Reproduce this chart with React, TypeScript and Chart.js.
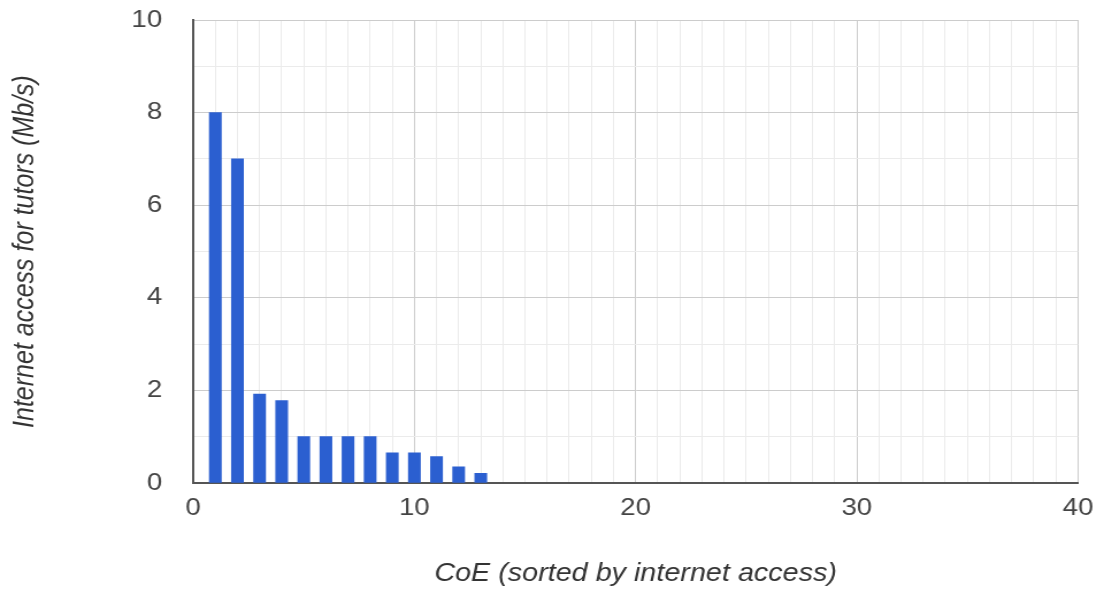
import React, { useEffect, useRef } from "react";
import { Chart, registerables } from "chart.js";

Chart.register(...registerables);

const categories: number[] = [1, 2, 3, 4, 5, 6, 7, 8, 9, 10, 11, 12, 13];
const values: number[] = [8.0, 7.0, 1.92, 1.78, 1.0, 1.0, 1.0, 1.0, 0.65, 0.65, 0.57, 0.35, 0.21];
const xTickLabels: number[] = [0, 10, 20, 30, 40];
const yTickLabels: number[] = [0, 2, 4, 6, 8, 10];
const xTitle = "CoE (sorted by internet access)";
const yTitle = "Internet access for tutors (Mb/s)";

const FONT = "'Liberation Sans', Arial, sans-serif";
const STRETCH = 1.15;
const INNER_W = Math.round(1098 / STRETCH);

const titlePlugin = {
  id: "axisTitles",
  afterDraw(chart: any) {
    const ctx = chart.ctx;
    const area = chart.chartArea;
    ctx.save();
    ctx.fillStyle = "#333333";
    ctx.font = `italic 25px ${FONT}`;
    ctx.textAlign = "center";
    ctx.textBaseline = "middle";
    ctx.fillText(xTitle, (area.left + area.right) / 2, 574);
    ctx.translate(22, (area.top + area.bottom) / 2);
    ctx.rotate(-Math.PI / 2);
    ctx.fillText(yTitle, 0, 0);
    ctx.restore();
  },
};

export default function App() {
  const ref = useRef<HTMLCanvasElement | null>(null);
  useEffect(() => {
    if (!ref.current) return;
    const chart = new Chart(ref.current, {
      type: "bar",
      data: {
        datasets: [
          {
            data: categories.map((c, i) => ({ x: c, y: values[i] })),
            backgroundColor: "#2b5fd0",
            borderWidth: 0,
            barThickness: 10.4,
          },
        ],
      },
      options: {
        animation: false,
        responsive: true,
        maintainAspectRatio: false,
        layout: { autoPadding: false, padding: { top: 20, right: 17.6, left: 0, bottom: 0 } },
        plugins: { legend: { display: false }, tooltip: { enabled: false } },
        scales: {
          x: {
            type: "linear",
            min: 0,
            max: 40,
            offset: false,
            afterFit: (s: any) => {
              s.height = 107;
              s.paddingLeft = 0;
              s.paddingRight = 0;
            },
            grid: {
              offset: false,
              drawTicks: false,
              color: (c: any) => (c.tick && c.tick.value % 10 === 0 ? "#cccccc" : "#ebebeb"),
              lineWidth: 1,
            },
            border: { color: "#555555", width: 2 },
            ticks: {
              stepSize: 1,
              autoSkip: false,
              maxRotation: 0,
              padding: 11,
              color: "#444444",
              font: { family: FONT, size: 24 },
              callback: (v: any) => (xTickLabels.includes(Number(v)) ? String(v) : ""),
            },
          },
          y: {
            min: 0,
            max: 10,
            afterFit: (s: any) => {
              s.width = 168;
              s.paddingTop = 0;
              s.paddingBottom = 0;
            },
            grid: {
              drawTicks: false,
              color: (c: any) => (c.tick && c.tick.value % 2 === 0 ? "#cccccc" : "#ebebeb"),
              lineWidth: 1,
            },
            border: { color: "#555555", width: 2 },
            ticks: {
              stepSize: 1,
              autoSkip: false,
              padding: 27,
              color: "#444444",
              font: { family: FONT, size: 24 },
              callback: (v: any) => (yTickLabels.includes(Number(v)) ? String(v) : ""),
            },
          },
        },
      },
      plugins: [titlePlugin],
    });
    return () => chart.destroy();
  }, []);
  return (
    <div style={{ position: "fixed", left: 0, top: 0, width: 1098, height: 590, background: "#fff", overflow: "hidden" }}>
      <div
        style={{
          position: "absolute",
          left: 0,
          top: 0,
          width: INNER_W,
          height: 590,
          transform: `scaleX(${STRETCH})`,
          transformOrigin: "0 0",
        }}
      >
        <canvas ref={ref} />
      </div>
    </div>
  );
}
